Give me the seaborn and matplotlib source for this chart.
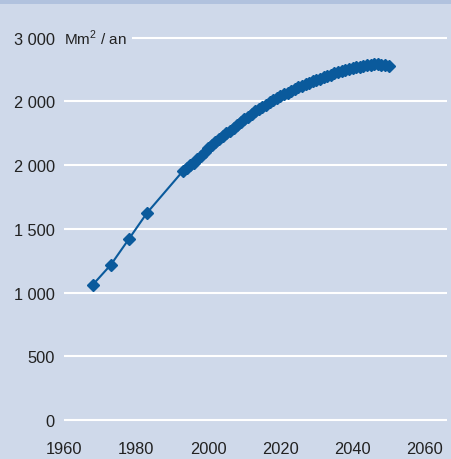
import matplotlib
matplotlib.use("Agg")
import matplotlib.pyplot as plt
import seaborn as sns
import pandas as pd
from matplotlib.patches import Rectangle

# data
years = [1968, 1973, 1978, 1983,
         1993, 1994, 1995, 1996, 1997, 1998, 1999, 2000, 2001, 2002,
         2003, 2004, 2005, 2006, 2007, 2008, 2009, 2010, 2011, 2012,
         2013, 2014, 2015, 2016, 2017, 2018, 2019, 2020, 2021, 2022,
         2023, 2024, 2025, 2026, 2027, 2028, 2029, 2030, 2031, 2032,
         2033, 2034, 2035, 2036, 2037, 2038, 2039, 2040, 2041, 2042,
         2043, 2044, 2045, 2046, 2047, 2048, 2049, 2050]
surface = [1062, 1219, 1421, 1625,
           1955, 1975, 1998, 2020, 2048, 2075, 2100, 2135, 2158, 2180,
           2205, 2228, 2250, 2272, 2295, 2318, 2340, 2362, 2382, 2402,
           2422, 2440, 2458, 2476, 2494, 2510, 2526, 2542, 2556, 2570,
           2584, 2598, 2610, 2622, 2634, 2646, 2657, 2668, 2680, 2690,
           2700, 2710, 2720, 2730, 2738, 2746, 2754, 2762, 2768, 2774,
           2780, 2786, 2790, 2794, 2792, 2790, 2786, 2782]

y_ticks = [0, 500, 1000, 1500, 2000, 2500, 3000]
y_tick_labels = ["0", "500", "1 000", "1 500", "2 000", "2 000", "3 000"]
x_ticks = [1960, 1980, 2000, 2020, 2040, 2060]
unit_label = "Mm$^{\\mathregular{2}}$ / an"

bg = "#cfd9ea"
line_color = "#0a5a9c"
text_color = "#222222"

sns.set_style("white", {"axes.facecolor": bg, "figure.facecolor": bg})
plt.rcParams["font.family"] = ["Liberation Sans", "DejaVu Sans"]
plt.rcParams["mathtext.fontset"] = "custom"
plt.rcParams["mathtext.rm"] = "Liberation Sans"

df = pd.DataFrame({"year": years, "surface": surface})

fig = plt.figure(figsize=(4.51, 4.60), dpi=100)
ax = fig.add_axes([64 / 451, 30 / 460, 383 / 451, 400 / 460])

# top band
fig.patches.append(Rectangle((0, 1 - 5 / 460), 1, 5 / 460, transform=fig.transFigure,
                             facecolor="#b1c2de", edgecolor="none", zorder=0))

for v in y_ticks:
    ax.axhline(v, color="white", lw=1.5, zorder=1)

sns.lineplot(data=df, x="year", y="surface", ax=ax, color=line_color, lw=1.5,
             marker="D", markersize=6.5, markeredgecolor=line_color,
             markeredgewidth=1.0, zorder=3)

ax.set_xlim(1960, 2066.2)
ax.set_ylim(-70.6, 3069)
ax.set_xticks(x_ticks)
ax.set_xticklabels([str(t) for t in x_ticks])
ax.set_yticks(y_ticks)
ax.set_yticklabels(y_tick_labels)
ax.tick_params(axis="both", length=0, labelsize=11.8, labelcolor=text_color)
ax.tick_params(axis="x", pad=8.5)
ax.tick_params(axis="y", pad=6.5)
ax.set_xlabel("")
ax.set_ylabel("")
for s in ax.spines.values():
    s.set_visible(False)

ax.text(1960.1, 3000, unit_label, fontsize=11, color=text_color, ha="left", va="center",
        zorder=2, bbox=dict(facecolor=bg, edgecolor="none", pad=3.5))

fig.savefig("out.png", dpi=100, facecolor=bg)
